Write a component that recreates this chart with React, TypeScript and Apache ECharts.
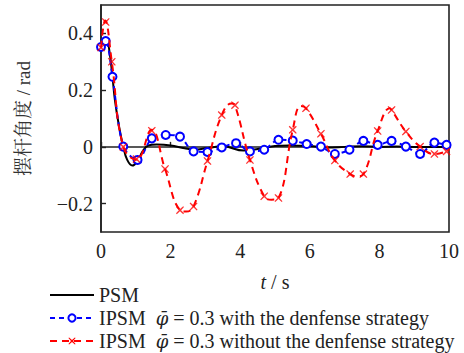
import React, { useEffect, useRef } from "react";
import * as echarts from "echarts";

const psmT = [0, 0.08, 0.16, 0.25, 0.33, 0.4, 0.52, 0.64, 0.75, 0.9, 1.05, 1.2, 1.36, 1.6, 2.0, 2.4, 2.7, 3.0, 3.5, 4.1, 4.6, 5.0, 5.4, 6.0, 6.5, 7.0, 7.5, 8.0, 8.5, 9.0, 9.5, 10];
const psmY = [0.352, 0.37, 0.378, 0.33, 0.247, 0.165, 0.071, 0.0, -0.045, -0.066, -0.05, -0.015, 0.005, 0.008, 0.005, -0.005, -0.01, -0.005, 0.002, -0.013, -0.006, 0.003, 0.005, 0.003, -0.002, 0.0, 0.002, 0.0, 0.001, 0.0, 0.0, 0.0];

// blue markers (IPSM with defense)
const withT = [0, 0.135, 0.33, 0.64, 1.05, 1.46, 1.86, 2.27, 2.66, 3.06, 3.47, 3.88, 4.28, 4.69, 5.1, 5.51, 5.91, 6.32, 6.72, 7.14, 7.54, 7.95, 8.35, 8.76, 9.17, 9.58, 9.93];
const withY = [0.352, 0.373, 0.247, 0.001, -0.046, 0.03, 0.042, 0.036, -0.016, -0.018, -0.002, 0.013, -0.016, -0.01, 0.025, 0.022, 0.01, 0.001, -0.025, -0.01, 0.021, 0.007, 0.021, 0.001, -0.025, 0.015, 0.007];

// red markers (IPSM without defense)
const withoutT = [0, 0.135, 0.31, 0.64, 1.02, 1.46, 1.84, 2.27, 2.66, 3.06, 3.47, 3.85, 4.28, 4.69, 5.1, 5.51, 5.89, 6.32, 6.72, 7.16, 7.54, 7.95, 8.35, 8.76, 9.17, 9.58, 9.93];
const withoutY = [0.35, 0.44, 0.3, 0.0, -0.043, 0.057, -0.078, -0.223, -0.21, -0.05, 0.112, 0.147, -0.046, -0.174, -0.18, 0.06, 0.136, 0.046, -0.048, -0.096, -0.096, 0.056, 0.13, 0.054, 0.001, -0.025, -0.016];

// red curve (markers plus its turning points)
const withoutCurveT = [0, 0.12, 0.31, 0.64, 1.02, 1.45, 1.84, 2.27, 2.45, 2.66, 3.06, 3.47, 3.75, 3.85, 4.28, 4.69, 4.9, 5.1, 5.51, 5.74, 5.89, 6.32, 6.72, 7.16, 7.35, 7.54, 7.95, 8.3, 8.35, 8.76, 9.17, 9.58, 9.93, 10];
const withoutCurveY = [0.35, 0.445, 0.3, 0.0, -0.045, 0.06, -0.078, -0.223, -0.228, -0.21, -0.05, 0.112, 0.153, 0.147, -0.046, -0.174, -0.186, -0.18, 0.06, 0.144, 0.136, 0.046, -0.048, -0.096, -0.104, -0.096, 0.056, 0.136, 0.13, 0.054, 0.001, -0.025, -0.016, -0.01];

const xTicks = [0, 2, 4, 6, 8, 10];
const yTicks = [-0.2, 0, 0.2, 0.4];

const seriesNames = [
  "PSM",
  "IPSM φ̄ = 0.3 with the denfense strategy",
  "IPSM φ̄ = 0.3 without the denfense strategy",
];

const SERIF = "Liberation Serif, Times New Roman, Tinos, DejaVu Serif, serif";
const PHI_FONT = "DejaVu Serif, Liberation Serif, serif";
const CROSS = "path://M1,0L5,3.6L9,0L10,1L6.4,5L10,9L9,10L5,6.4L1,10L0,9L3.6,5L0,1Z";

const zip = (t: number[], y: number[]) => t.map((v, i) => [v, y[i]]);

export default function App() {
  const ref = useRef<HTMLDivElement>(null);
  useEffect(() => {
    if (!ref.current) return;
    const chart = echarts.init(ref.current, null, { renderer: "svg" });
    const fmtNum = (v: number) => {
      const s = Math.abs(v) < 1e-9 ? "0" : v.toFixed(1);
      return s.replace("-", "−");
    };
    chart.setOption({
      animation: false,
      backgroundColor: "#ffffff",
      textStyle: { fontFamily: SERIF },
      grid: {
        left: 101,
        right: 15,
        top: 5,
        bottom: 121,
        show: true,
        borderColor: "#222",
        borderWidth: 1.6,
      },
      xAxis: {
        type: "value",
        min: 0,
        max: 10,
        interval: 2,
        name: "{i|t} / s",
        nameLocation: "middle",
        nameGap: 40,
        nameTextStyle: {
          fontFamily: SERIF,
          fontSize: 20,
          color: "#222",
          rich: {
            i: { fontStyle: "italic", fontFamily: SERIF, fontSize: 20, color: "#222" },
          },
        },
        axisLine: { show: true, lineStyle: { color: "#222", width: 1.6 } },
        axisTick: { show: true, inside: true, length: 5, lineStyle: { color: "#222", width: 1.4 } },
        axisLabel: {
          fontFamily: SERIF,
          fontSize: 20,
          color: "#222",
          margin: 9,
          formatter: (v: number) => String(v),
          customValues: xTicks,
        },
        splitLine: { show: false },
      },
      yAxis: {
        type: "value",
        min: -0.3,
        max: 0.5,
        name: "摆杆角度 / rad",
        nameLocation: "middle",
        nameGap: 68,
        nameRotate: 90,
        nameTextStyle: {
          fontFamily: "Liberation Serif, Times New Roman, Noto Serif CJK SC, Noto Sans CJK SC, serif",
          fontSize: 19,
          color: "#333",
        },
        axisLine: { show: true, lineStyle: { color: "#222", width: 1.6 } },
        axisTick: { show: true, inside: true, length: 5, lineStyle: { color: "#222", width: 1.4 }, customValues: yTicks },
        axisLabel: {
          fontFamily: SERIF,
          fontSize: 20,
          color: "#222",
          margin: 8,
          formatter: fmtNum,
          customValues: yTicks,
        },
        splitLine: { show: false },
      },
      legend: {
        orient: "vertical",
        left: 49,
        top: 285,
        itemWidth: 44,
        itemHeight: 9,
        itemGap: 3,
        padding: 0,
        data: [
          { name: seriesNames[0], itemStyle: { opacity: 0 } },
          { name: seriesNames[1] },
          { name: seriesNames[2] },
        ],
        formatter: (name: string) => {
          if (name === seriesNames[0]) return "{n|PSM}";
          const rest = name.split("φ̄")[1];
          return "{n|IPSM  }{p|φ̄}{n|" + rest + "}";
        },
        textStyle: {
          fontFamily: SERIF,
          fontSize: 20,
          color: "#222",
          lineHeight: 20,
          rich: {
            n: { fontFamily: SERIF, fontSize: 20, color: "#222", lineHeight: 20 },
            p: { fontFamily: PHI_FONT, fontStyle: "italic", fontSize: 18, color: "#222", lineHeight: 20 },
          },
        },
      },
      series: [
        {
          name: seriesNames[0],
          type: "line",
          data: zip(psmT, psmY),
          smooth: 0.4,
          showSymbol: false,
          symbol: "none",
          lineStyle: { color: "#000", width: 2 },
          itemStyle: { color: "#000" },
          z: 2,
        },
        {
          name: seriesNames[1],
          type: "line",
          data: zip(withT, withY),
          smooth: 0.3,
          symbol: "emptyCircle",
          symbolSize: 8,
          lineStyle: { color: "#0000ff", width: 2, type: [5, 4] },
          itemStyle: { color: "#0000ff", borderColor: "#0000ff", borderWidth: 2 },
          z: 3,
        },
        {
          name: seriesNames[2],
          type: "line",
          data: zip(withoutCurveT, withoutCurveY),
          smooth: 0.45,
          symbol: CROSS,
          symbolSize: 8,
          showSymbol: false,
          lineStyle: { color: "#ff0000", width: 2, type: [7, 5] },
          itemStyle: { color: "#ff0000" },
          z: 4,
        },
        {
          name: "withoutMarkers",
          type: "scatter",
          data: zip(withoutT, withoutY),
          symbol: CROSS,
          symbolSize: 8,
          itemStyle: { color: "#ff0000" },
          z: 5,
        },
      ],
    });
    return () => chart.dispose();
  }, []);
  return <div ref={ref} style={{ width: 464, height: 353, position: "absolute", left: 0, top: 0 }} />;
}
